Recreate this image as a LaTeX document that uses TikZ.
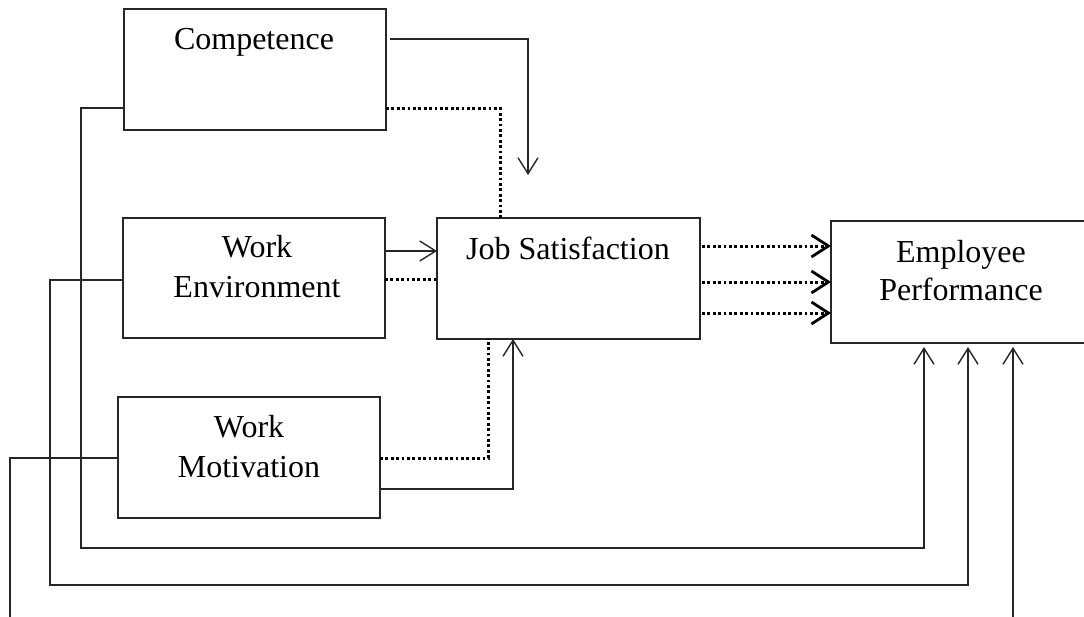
\documentclass[tikz,border=0pt]{standalone}
\usepackage{fontspec}
\setmainfont{Liberation Serif}
\usetikzlibrary{arrows.meta}
\newcommand\twol[2]{\begin{tabular}[t]{@{}c@{}}#1\\#2\end{tabular}}
\begin{document}
\begin{tikzpicture}[x=1pt,y=-1pt,
  box/.style={draw=black!85, line width=1.3pt, rectangle, inner sep=0pt, outer sep=0pt, anchor=north west},
  txt/.style={inner sep=0pt, anchor=base, font=\fontsize{32}{40}\selectfont},
  ln/.style={draw=black!85, line width=1.3pt},
  dotl/.style={draw=black, line width=3pt, dash pattern=on 2.8pt off 2.6pt},
  arr/.style={-{Straight Barb[length=16pt, width=20pt, line width=1.4pt]}},
  darr/.style={-{Straight Barb[length=17pt, width=22pt, line width=2.8pt]}}
]
\useasboundingbox (0,0) rectangle (1084,616);
\clip (0,0) rectangle (1084,616);
\fill[white] (0,0) rectangle (1084,616);

% boxes
\node[box, minimum width=262pt, minimum height=121pt] (comp) at (124,9) {};
\node[box, minimum width=262pt, minimum height=120pt] (we) at (123,218) {};
\node[box, minimum width=262pt, minimum height=121pt] (wm) at (118,397) {};
\node[box, minimum width=263pt, minimum height=121pt] (js) at (437,218) {};
\node[box, minimum width=257pt, minimum height=122pt] (ep) at (831,221) {};

% labels
\node[txt] (compT) at (254,49) {Competence};
\node[txt] (weT) at (257,257) {\twol{Work}{Environment}};
\node[txt] (wmT) at (249,437) {\twol{Work}{Motivation}};
\node[txt] (jsT) at (568,259) {Job Satisfaction};
\node[txt, font=\fontsize{32}{38}\selectfont] (epT) at (961,262) {\twol{Employee}{Performance}};

% free end
\coordinate (cjs) at (528,175);

% connectors to Job Satisfaction
\draw[ln, arr, shorten <=4pt] (comp.east |- 0,39) -| (cjs);
\draw[dotl] (comp.east |- 0,108) -| (js.north -| 500,0);
\draw[ln, arr] (we.east |- 0,251) -- (js.west |- 0,251);
\draw[dotl] (we.east |- 0,279) -- (js.west |- 0,279);
\draw[dotl] (wm.east |- 0,458) -| (js.south -| 488,0);
\draw[ln, arr] (wm.east |- 0,489) -| (js.south -| 513,0);

% Job Satisfaction to Employee Performance
\foreach \yy in {246,282,313}
  \draw[dotl, darr, shorten <=2pt] (js.east |- 0,\yy) -- (ep.west |- 0,\yy);

% direct paths to Employee Performance
\draw[ln, arr, shorten >=4pt] (comp.west |- 0,108) -| (81,548) -| (ep.south -| 924,0);
\draw[ln, arr, shorten >=4pt] (we.west |- 0,280) -| (50,585) -| (ep.south -| 968,0);
\draw[ln, arr, shorten >=4pt] (wm.west |- 0,458) -| (10,640) -| (ep.south -| 1013,0);
\end{tikzpicture}
\end{document}
